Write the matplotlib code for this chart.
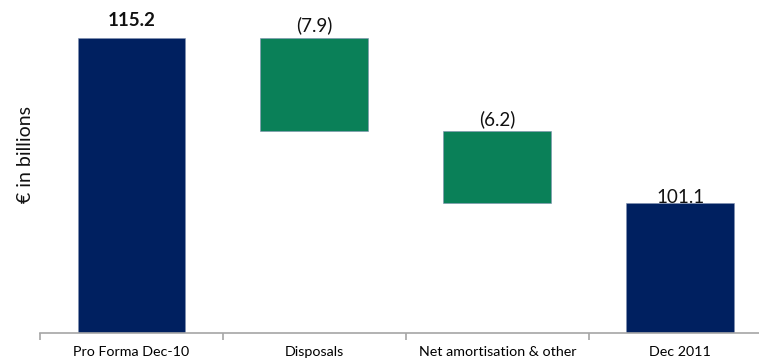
import matplotlib
matplotlib.use("Agg")
import matplotlib.pyplot as plt

# Waterfall data (EUR billions)
categories = ["Pro Forma Dec-10", "Disposals", "Net amortisation & other", "Dec 2011"]
values = [115.2, -7.9, -6.2, 101.1]
kinds = ["total", "delta", "delta", "total"]
labels = ["115.2", "(7.9)", "(6.2)", "101.1"]

navy = "#002060"
green = "#0A8058"
axis_grey = "#A6A6A6"
y_floor = 90.0

plt.rcParams["font.family"] = ["Lato", "DejaVu Sans"]

W, H = 759, 359
fig = plt.figure(figsize=(W / 100, H / 100), dpi=100)
ax = fig.add_axes([40 / W, (H - 333) / H, 1 - 40 / W, 333 / H])

bottoms, heights, colors = [], [], []
running = 0.0
for v, k in zip(values, kinds):
    if k == "total":
        bottoms.append(y_floor)
        heights.append(v - y_floor)
        colors.append(navy)
        running = v
    else:
        new = running + v
        bottoms.append(new)
        heights.append(running - new)
        colors.append(green)
        running = new

x = list(range(len(categories)))
bars = ax.bar(x, heights, bottom=bottoms, width=0.59, color=colors,
              edgecolor="#8090b0", linewidth=0.4)

# value labels above each bar
offsets = [12, 7, 5, 0]
for xi, b, h, lab, off, k in zip(x, bottoms, heights, labels, offsets, kinds):
    ax.annotate(lab, (xi, b + h), xytext=(0, off), textcoords="offset pixels",
                ha="center", va="baseline", fontsize=13.5,
                fontweight="bold" if xi == 0 else "normal", color="#111111")

for s in ["top", "right", "left"]:
    ax.spines[s].set_visible(False)
ax.spines["bottom"].set_color(axis_grey)
ax.spines["bottom"].set_linewidth(1.2)
ax.set_yticks([])
ax.set_xticks([-0.5, 0.5, 1.5, 2.5, 3.5])
ax.set_xticklabels([])
ax.set_xticks(x, minor=True)
ax.set_xticklabels(categories, minor=True, fontsize=10.3)
ax.tick_params(axis="x", which="major", direction="out", length=5, color=axis_grey, width=1.2)
ax.tick_params(axis="x", which="minor", length=0, pad=9)

ax.set_xlim(-0.5, 3.43)
ax.set_ylim(y_floor, y_floor + 333 / 11.70)

fig.text(26 / W, 1 - 155 / H, "€ in billions", rotation=90, ha="center", va="center",
         fontsize=14, color="#111111")

fig.savefig("out.png", dpi=100)
